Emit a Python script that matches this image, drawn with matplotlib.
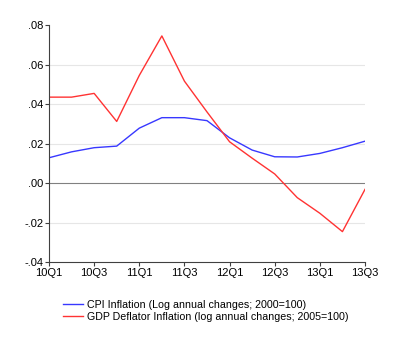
import numpy as np
import matplotlib.pyplot as plt

plt.rcParams['font.family'] = ['Liberation Sans', 'DejaVu Sans']

quarters = ['10Q1', '10Q2', '10Q3', '10Q4', '11Q1', '11Q2', '11Q3', '11Q4',
            '12Q1', '12Q2', '12Q3', '12Q4', '13Q1', '13Q2', '13Q3']
cpi = [0.0128, 0.0158, 0.0179, 0.0187, 0.0278, 0.0331, 0.0331, 0.0316,
       0.0229, 0.0167, 0.0133, 0.0132, 0.0150, 0.0179, 0.0212]
gdp_defl = [0.0435, 0.0435, 0.0454, 0.0312, 0.0545, 0.0745, 0.0516, 0.0360,
            0.0209, 0.0126, 0.0046, -0.0074, -0.0153, -0.0246, -0.0032]
tick_labels = quarters[::2]

fig = plt.figure(figsize=(4.0, 3.48), dpi=100)
ax = fig.add_axes([0.1225, 0.247, 0.79, 0.681])

x = np.arange(len(quarters))
ax.plot(x, cpi, color='#3838ff', lw=1.0,
        label='CPI Inflation (Log annual changes; 2000=100)')
ax.plot(x, gdp_defl, color='#ff3333', lw=1.0,
        label='GDP Deflator Inflation (log annual changes; 2005=100)')

for y in [-0.02, 0.02, 0.04, 0.06]:
    ax.axhline(y, color='#e6e6e6', lw=0.8, zorder=0)
ax.axhline(0, color='#808080', lw=0.8, zorder=1)

ax.set_xlim(0, len(quarters) - 1)
ax.set_ylim(-0.04, 0.08)
ax.set_xticks(x[::2])
ax.set_xticklabels(tick_labels)
yt = np.arange(-0.04, 0.081, 0.02)
ax.set_yticks(yt)
ax.set_yticklabels(['{:.2f}'.format(v).replace('0.', '.') for v in yt])
ax.tick_params(labelsize=8, length=3, width=0.8, color='#404040', pad=1)

ax.spines['top'].set_visible(False)
ax.spines['right'].set_visible(False)
for s in ['left', 'bottom']:
    ax.spines[s].set_color('#404040')
    ax.spines[s].set_linewidth(0.8)

fig.legend(loc='upper left', bbox_to_anchor=(0.1575, 0.139), frameon=False,
           fontsize=7.7, handlelength=1.85, handletextpad=0.35,
           labelspacing=0.2, borderaxespad=0, borderpad=0)

fig.savefig('out.png', dpi=100)
